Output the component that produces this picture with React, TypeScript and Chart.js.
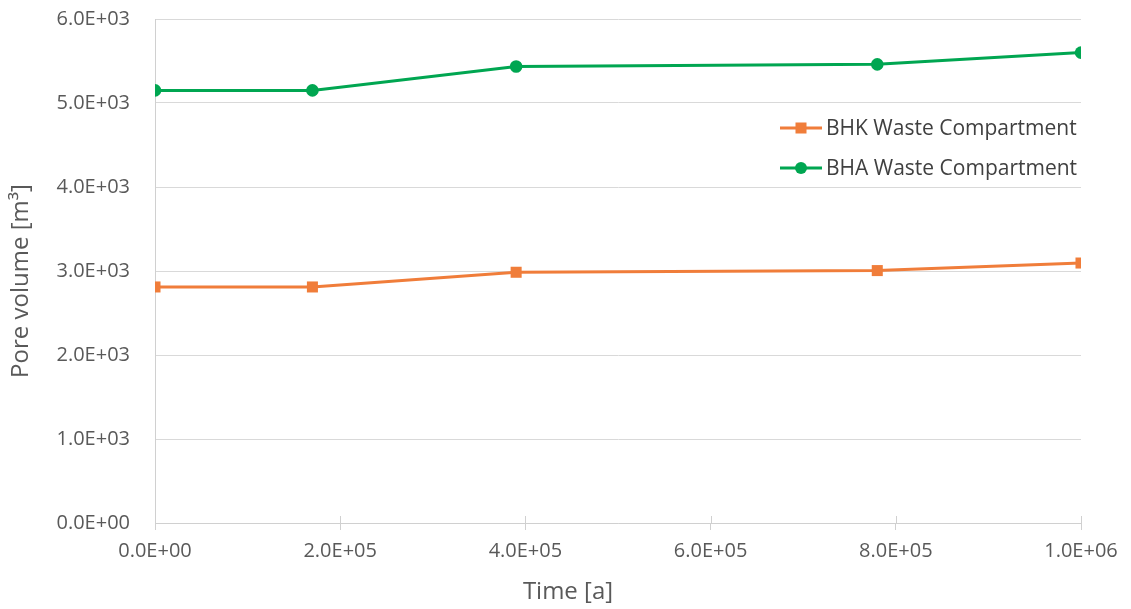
import React, { useEffect, useRef } from "react";
import { Chart, registerables } from "chart.js";

Chart.register(...registerables);

// Time points [a]
const timeYears = [0, 170000, 390000, 780000, 1000000];

// Pore volume [m³] per waste compartment
const bhkPoreVolume = [2810, 2810, 2985, 3005, 3095];
const bhaPoreVolume = [5150, 5150, 5435, 5460, 5600];

const seriesNames = ["BHK Waste Compartment", "BHA Waste Compartment"];
const xTitle = "Time [a]";
const yTitle = "Pore volume [m³]";

const ORANGE = "#F07D3A";
const GREEN = "#00A651";
const FONT = "'Open Sans', 'Noto Sans', sans-serif";

// Format numbers like 2.0E+05
function sci(v: number): string {
  const [m, e] = Number(v).toExponential(1).split("e");
  const n = parseInt(e, 10);
  const sign = n < 0 ? "-" : "+";
  const abs = Math.abs(n).toString().padStart(2, "0");
  return `${m.toUpperCase()}E${sign}${abs}`;
}

// Draws the upper half of the crossing x tick marks, the axis titles
// and the legend placed inside the plot area.
const decorPlugin = {
  id: "decor",
  afterDraw(chart: any) {
    const { ctx, scales, chartArea } = chart;
    const x = scales.x;
    ctx.save();

    // tick marks crossing above the x axis
    ctx.strokeStyle = "#D0D0D0";
    ctx.lineWidth = 1;
    x.ticks.forEach((t: any) => {
      const px = Math.round(x.getPixelForValue(t.value)) + 0.5;
      ctx.beginPath();
      ctx.moveTo(px, chartArea.bottom - 7);
      ctx.lineTo(px, chartArea.bottom);
      ctx.stroke();
    });

    // axis titles
    ctx.fillStyle = "#595959";
    ctx.font = `24px ${FONT}`;
    ctx.textAlign = "center";
    ctx.textBaseline = "middle";
    ctx.fillText(xTitle, 568, 592);
    ctx.save();
    ctx.translate(21, 281);
    ctx.rotate(-Math.PI / 2);
    ctx.fillText(yTitle, 0, 0);
    ctx.restore();

    // legend
    const rows = [128, 168];
    chart.data.datasets.forEach((ds: any, i: number) => {
      const y = rows[i];
      ctx.strokeStyle = ds.borderColor;
      ctx.lineWidth = 3;
      ctx.beginPath();
      ctx.moveTo(780, y);
      ctx.lineTo(822, y);
      ctx.stroke();
      ctx.fillStyle = ds.pointBackgroundColor;
      if (ds.pointStyle === "rect") {
        ctx.fillRect(801 - 5.5, y - 5.5, 11, 11);
      } else {
        ctx.beginPath();
        ctx.arc(801, y, 6, 0, Math.PI * 2);
        ctx.fill();
      }
      ctx.fillStyle = "#404040";
      ctx.font = `21px ${FONT}`;
      ctx.textAlign = "left";
      ctx.textBaseline = "middle";
      ctx.fillText(ds.label, 826, y + 1);
    });

    ctx.restore();
  },
};

export default function App() {
  const canvasRef = useRef<HTMLCanvasElement | null>(null);

  useEffect(() => {
    const canvas = canvasRef.current;
    if (!canvas) return;
    const chart = new Chart(canvas, {
      type: "line",
      data: {
        datasets: [
          {
            label: seriesNames[0],
            data: timeYears.map((t, i) => ({ x: t, y: bhkPoreVolume[i] })),
            borderColor: ORANGE,
            backgroundColor: ORANGE,
            pointBackgroundColor: ORANGE,
            pointBorderColor: ORANGE,
            pointStyle: "rect",
            pointRadius: 7.8,
            pointBorderWidth: 0,
            borderWidth: 3,
            tension: 0,
          },
          {
            label: seriesNames[1],
            data: timeYears.map((t, i) => ({ x: t, y: bhaPoreVolume[i] })),
            borderColor: GREEN,
            backgroundColor: GREEN,
            pointBackgroundColor: GREEN,
            pointBorderColor: GREEN,
            pointStyle: "circle",
            pointRadius: 6.3,
            pointBorderWidth: 0,
            borderWidth: 3,
            tension: 0,
          },
        ],
      },
      options: {
        responsive: false,
        animation: false,
        devicePixelRatio: 1,
        layout: { padding: { left: 0, right: 50, top: 19, bottom: 0 } },
        plugins: {
          legend: { display: false },
          tooltip: { enabled: false },
        },
        scales: {
          x: {
            type: "linear",
            min: 0,
            max: 1000000,
            afterFit: (s: any) => {
              s.height = 609 - 523;
            },
            ticks: {
              stepSize: 200000,
              color: "#595959",
              font: { family: FONT, size: 20 },
              padding: 9,
              maxRotation: 0,
              callback: (v: any) => sci(Number(v)),
            },
            grid: {
              drawOnChartArea: false,
              drawTicks: true,
              tickLength: 7,
              color: "#D0D0D0",
            },
            border: { color: "#D0D0D0", width: 1 },
          },
          y: {
            min: 0,
            max: 6000,
            afterFit: (s: any) => {
              s.width = 155;
              s.paddingTop = 0;
              s.paddingBottom = 0;
            },
            ticks: {
              stepSize: 1000,
              color: "#595959",
              font: { family: FONT, size: 20 },
              padding: 25,
              callback: (v: any) => sci(Number(v)),
            },
            grid: {
              color: "#D9D9D9",
              drawTicks: false,
            },
            border: { color: "#D0D0D0", width: 1 },
          },
        },
      },
      plugins: [decorPlugin],
    });
    return () => chart.destroy();
  }, []);

  return (
    <div style={{ position: "absolute", left: 0, top: 0, width: 1131, height: 609, background: "#fff" }}>
      <canvas ref={canvasRef} width={1131} height={609} />
    </div>
  );
}
